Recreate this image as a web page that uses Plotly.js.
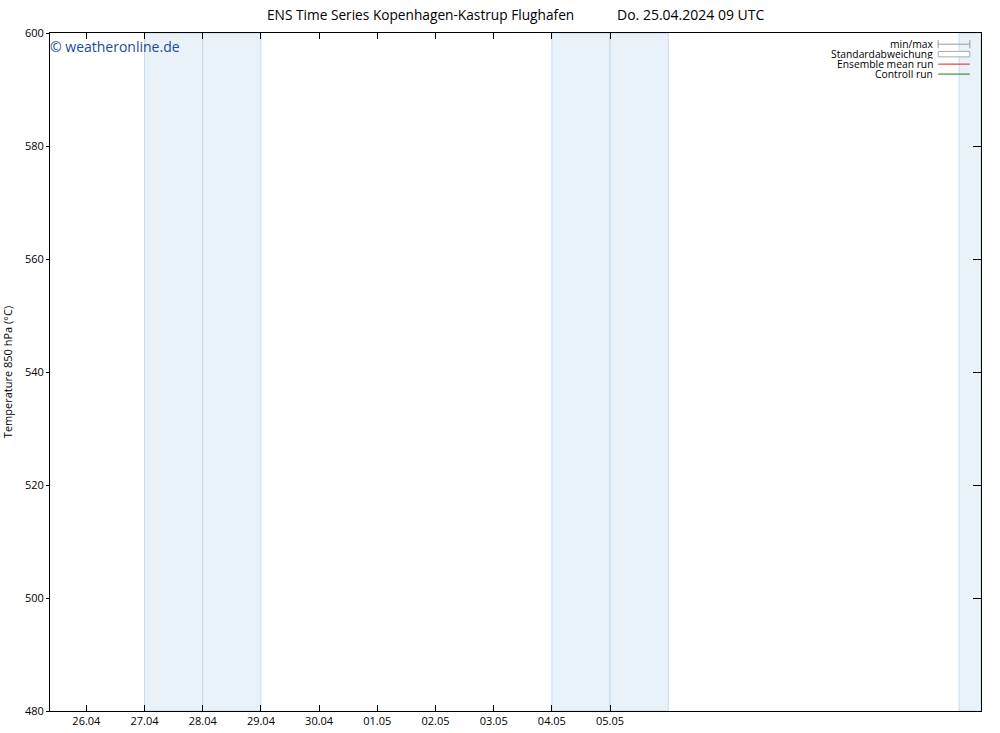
<!DOCTYPE html>
<html>
<head>
<meta charset="utf-8">
<script src="https://cdn.plot.ly/plotly-3.0.1.min.js"></script>
<style>body{margin:0;padding:0;background:#fff;} #chart{width:1000px;height:733px;}</style>
</head>
<body>
<div id="chart"></div>
<script>
// Data
const tickDates = ["2024-04-26","2024-04-27","2024-04-28","2024-04-29","2024-04-30","2024-05-01","2024-05-02","2024-05-03","2024-05-04","2024-05-05"];
const tickLabels = ["26.04","27.04","28.04","29.04","30.04","01.05","02.05","03.05","04.05","05.05"];
const weekendStarts = ["2024-04-27","2024-04-28","2024-05-04","2024-05-05","2024-05-11"];
const weekendEnds   = ["2024-04-28","2024-04-29","2024-05-05","2024-05-06","2024-05-11 09:00"];
const yTicks = [480, 500, 520, 540, 560, 580, 600];
const xRange = ["2024-04-25 09:00", "2024-05-11 09:00"];
const yRange = [480, 600];
// Series (no values visible in the reference)
const seriesTimes = [];
const ensMean = [];
const controlRun = [];
const legTexts = ["min/max","Standardabweichung","Ensemble mean run","Controll run"];

const fontFam = "'Open Sans', 'DejaVu Sans', sans-serif";

const shapes = [];
for (let i = 0; i < weekendStarts.length; i++) {
  shapes.push({type:'rect', xref:'x', yref:'paper', x0:weekendStarts[i], x1:weekendEnds[i], y0:0, y1:1,
    fillcolor:'#E9F1F9', line:{color:'#C5DCEE', width:1}, layer:'below'});
}
// legend symbols
const lx0 = 0.954, lx1 = 0.988;
const ly = [0.9835, 0.9688, 0.9541, 0.9394];
shapes.push({type:'line', xref:'paper', yref:'paper', x0:lx0, x1:lx1, y0:ly[0], y1:ly[0], line:{color:'#999', width:1}});
shapes.push({type:'line', xref:'paper', yref:'paper', x0:lx0, x1:lx0, y0:ly[0]-0.006, y1:ly[0]+0.006, line:{color:'#999', width:1}});
shapes.push({type:'line', xref:'paper', yref:'paper', x0:lx1, x1:lx1, y0:ly[0]-0.006, y1:ly[0]+0.006, line:{color:'#999', width:1}});
shapes.push({type:'rect', xref:'paper', yref:'paper', x0:lx0, x1:lx1, y0:ly[1]-0.004, y1:ly[1]+0.004, line:{color:'#aaa', width:1}, fillcolor:'#fff'});
shapes.push({type:'line', xref:'paper', yref:'paper', x0:lx0, x1:lx1, y0:ly[2], y1:ly[2], line:{color:'#e0201b', width:1}});
shapes.push({type:'line', xref:'paper', yref:'paper', x0:lx0, x1:lx1, y0:ly[3], y1:ly[3], line:{color:'#1a7a1a', width:1}});

const annotations = legTexts.map((t,i)=>({xref:'paper', yref:'paper', x:0.949, y:ly[i], text:t, showarrow:false,
  xanchor:'right', yanchor:'middle', height:10, borderpad:0, font:{family:fontFam, size:10.3, color:'#000'}}));
annotations.push({xref:'paper', yref:'paper', x:-0.002, y:0.98, text:'© weatheronline.de', showarrow:false,
  xanchor:'left', yanchor:'middle', font:{family:fontFam, size:14, color:'#1a4a9e'}});
annotations.push({xref:'paper', yref:'paper', x:0.3975, y:1.0, yshift:19, text:'ENS Time Series Kopenhagen-Kastrup Flughafen', showarrow:false,
  xanchor:'center', yanchor:'middle', font:{family:fontFam, size:13.7, color:'#000'}});
annotations.push({xref:'paper', yref:'paper', x:0.688, y:1.0, yshift:19, text:'Do. 25.04.2024 09 UTC', showarrow:false,
  xanchor:'center', yanchor:'middle', font:{family:fontFam, size:14, color:'#000'}});

const traces = [
  {x: seriesTimes, y: ensMean, type:'scatter', mode:'lines', line:{color:'#e0201b', width:1}, name:legTexts[2], showlegend:false},
  {x: seriesTimes, y: controlRun, type:'scatter', mode:'lines', line:{color:'#1a7a1a', width:1}, name:legTexts[3], showlegend:false},
  {x: [], y: [], yaxis:'y2', type:'scatter', showlegend:false}
];

const layout = {
  width:1000, height:733,
  margin:{l:50, r:19, t:33, b:22},
  paper_bgcolor:'#fff', plot_bgcolor:'#fff',
  showlegend:false,
  font:{family:fontFam, size:11, color:'#000'},
  xaxis:{type:'date', range:xRange, tickvals:tickDates, ticktext:tickLabels, ticks:'inside', ticklen:6, tickcolor:'#000',
    showgrid:false, zeroline:false, showline:true, linecolor:'#000', linewidth:1, mirror:'ticks',
    tickfont:{family:fontFam, size:11}},
  yaxis:{range:yRange, tickvals:yTicks, ticks:'outside', ticklen:3, tickcolor:'#000', showgrid:false, zeroline:false,
    showline:true, linecolor:'#000', linewidth:1, mirror:true, tickfont:{family:fontFam, size:11},
    title:{text:'Temperature 850 hPa (°C)', font:{family:fontFam, size:11}, standoff:12}},
  yaxis2:{range:yRange, tickvals:yTicks, overlaying:'y', side:'right', ticks:'inside', ticklen:8, tickcolor:'#000',
    showticklabels:false, showgrid:false, zeroline:false, showline:false},
  shapes: shapes,
  annotations: annotations
};

Plotly.newPlot('chart', traces, layout, {staticPlot:true, displayModeBar:false});
</script>
</body>
</html>
